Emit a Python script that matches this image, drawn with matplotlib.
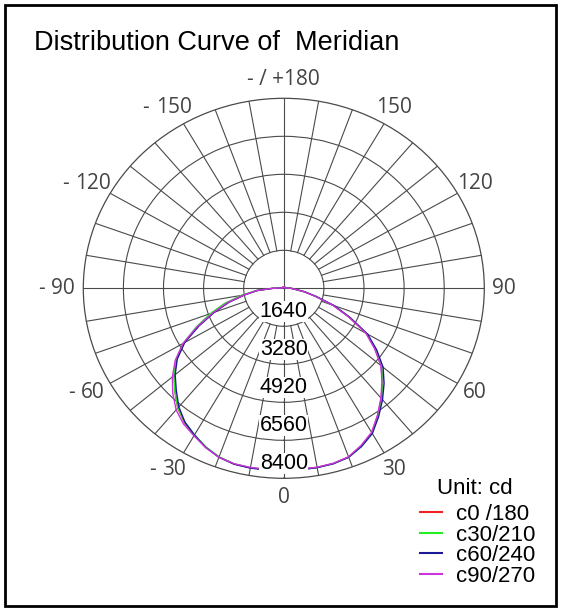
import matplotlib
matplotlib.use("Agg")
import numpy as np
import matplotlib.pyplot as plt
from matplotlib.lines import Line2D
from matplotlib.patches import Rectangle

plt.rcParams['font.family'] = ['Liberation Sans', 'DejaVu Sans']

# gamma angles in degrees, 0 = straight down
angles = list(range(-180, 185, 5))

# luminous intensity (cd), one value per angle above
back = [60] * 16
c0_180 = back + [70, 90, 450, 1100, 1650, 2350, 3050, 3850, 4700, 5350, 5850, 6300, 6750, 7080, 7320, 7560,
                 7750, 7850, 7870, 7860, 7840, 7850, 7850, 7830, 7750, 7500, 7200, 6700, 6200, 5700, 5200,
                 4550, 3900, 2950, 2150, 1350, 850, 450, 300, 90, 70] + [60] * 16
c30_210 = back + [70, 90, 460, 1150, 1750, 2500, 3200, 3950, 4750, 5380, 5860, 6300, 6740, 7060, 7300, 7550,
                  7740, 7840, 7860, 7850, 7830, 7840, 7850, 7830, 7760, 7520, 7230, 6720, 6230, 5720, 5220,
                  4580, 3920, 2980, 2180, 1380, 870, 460, 300, 90, 70] + [60] * 16
c60_240 = back + [70, 90, 440, 1080, 1620, 2320, 3020, 3820, 4680, 5320, 5800, 6220, 6680, 7050, 7310, 7570,
                  7760, 7860, 7880, 7870, 7850, 7860, 7860, 7840, 7760, 7530, 7240, 6760, 6280, 5800, 5300,
                  4640, 3960, 3000, 2200, 1380, 860, 450, 300, 90, 70] + [60] * 16
c90_270 = back + [70, 90, 450, 1100, 1660, 2380, 3080, 3900, 4760, 5420, 5950, 6420, 6850, 7150, 7350, 7580,
                  7760, 7840, 7850, 7840, 7820, 7830, 7840, 7820, 7740, 7480, 7180, 6680, 6180, 5680, 5180,
                  4530, 3880, 2930, 2130, 1330, 840, 440, 290, 90, 70] + [60] * 16

series = [c0_180, c30_210, c60_240, c90_270]
series_names = ['c0 /180', 'c30/210', 'c60/240', 'c90/270']
series_colors = ['#ee2222', '#22ee22', '#1a1a99', '#cc33dd']

ring_values = [1640, 3280, 4920, 6560, 8200]
ring_labels = ['1640', '3280', '4920', '6560', '8400']
r_max = 8200

label_angles = list(range(0, 360, 30))
angle_labels = ['0', '30', '60', '90', '120', '150', '- / +180', '150', '120', '90', '60', '30']
angle_prefix = ['', '', '', '', '', '', '', '- ', '- ', '- ', '- ', '- ']

fig = plt.figure(figsize=(5.61, 6.11), dpi=100)
fig.patch.set_facecolor('white')

ax = fig.add_axes([83.3 / 561, (611 - 478.3) / 611, 401 / 561, 380 / 611], projection='polar')
ax.set_aspect('auto')
ax.set_theta_zero_location('S')
ax.set_theta_direction(1)
ax.set_rlim(0, r_max)

grid_col = '#4a4a4a'
ax.set_xticks([])
ax.set_yticks(ring_values[:-1])
ax.set_yticklabels([])
ax.yaxis.grid(True, color=grid_col, lw=0.8)
ax.spines['polar'].set_color(grid_col)
ax.spines['polar'].set_linewidth(0.9)

# spokes every 10 degrees, starting at the inner ring
for a in range(0, 360, 10):
    t = np.radians(a)
    r0 = 0 if a % 90 == 0 else ring_values[0]
    ax.plot([t, t], [r0, r_max], color=grid_col, lw=0.8, zorder=1)

for vals, col in zip(series, series_colors):
    ax.plot(np.radians(angles), vals, color=col, lw=1.0, zorder=3)

# ring value labels along the 0 direction
step = ring_values[1] - ring_values[0]
for rv, lab in zip(ring_values, ring_labels):
    ax.text(0, rv - 0.39 * step, lab, ha='center', va='center', fontsize=15.5, color='black', zorder=5,
            bbox=dict(facecolor='white', edgecolor='none', pad=0.3))

# angle labels around the outside; the minus sign sits left of the number
afont = ['Open Sans', 'DejaVu Sans']
for a, lab, pre in zip(label_angles, angle_labels, angle_prefix):
    t = ax.text(np.radians(a), r_max * 1.1, lab, ha='center', va='center', fontsize=15,
                family=afont, color='#444444', clip_on=False)
    if pre:
        ax.annotate(pre, xy=(0, 0.5), xycoords=t, ha='right', va='center', fontsize=15,
                    family=afont, color='#444444', annotation_clip=False)

fig.text(34 / 561, 1 - 50 / 611, 'Distribution Curve of  Meridian', fontsize=19.5, color='black', va='baseline')

fig.text(437 / 561, 1 - 488 / 611, 'Unit: cd', fontsize=16, ha='left', va='center')
handles = [Line2D([], [], color=c, lw=1.5) for c in series_colors]
fig.legend(handles, series_names, loc='upper left', bbox_to_anchor=(420 / 561, 1 - 504 / 611),
           frameon=False, fontsize=16, handlelength=1.0, handletextpad=0.6,
           labelspacing=-0.02, borderpad=0, borderaxespad=0)

fig.add_artist(Rectangle((5 / 561, 5 / 611), 551 / 561, 601 / 611, transform=fig.transFigure,
                         fill=False, edgecolor='black', lw=2))

fig.savefig('out.png', dpi=100)
